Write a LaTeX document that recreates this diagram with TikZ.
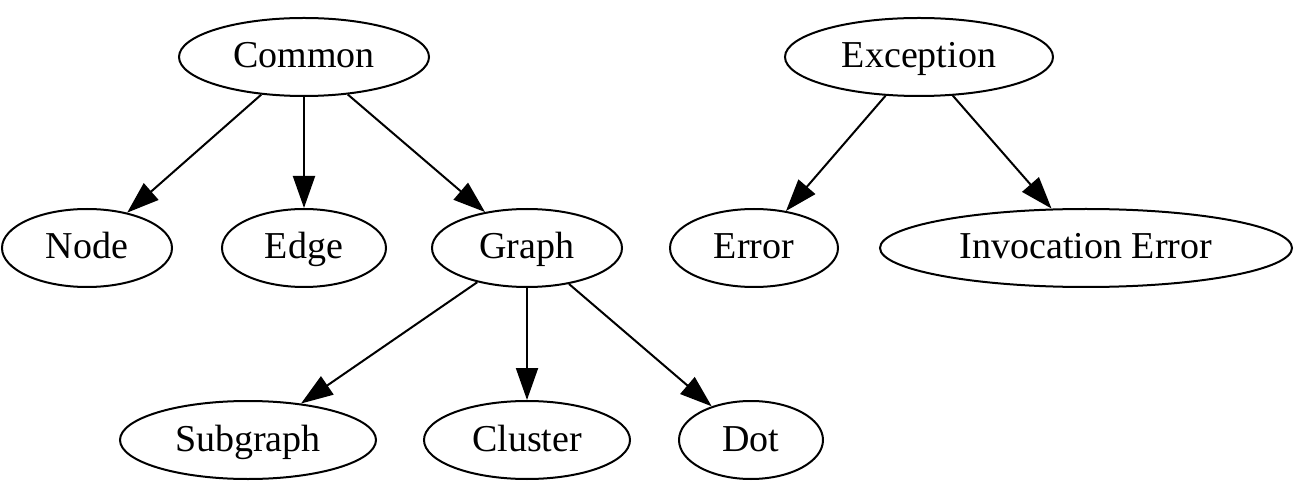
\documentclass[tikz,border=0pt]{standalone}
\usepackage{fontspec}
\setmainfont{Liberation Serif}
\usetikzlibrary{shapes.geometric,arrows.meta}
\begin{document}
\begin{tikzpicture}[x=0.5pt,y=-0.5pt,
  nd/.style={draw,ellipse,line width=1pt,inner sep=0pt,
    minimum height=78*0.5pt,text height=15.2pt,text depth=4.2pt,
    font=\fontsize{19pt}{22pt}\selectfont},
  ed/.style={line width=1pt,-{Triangle[length=16pt,width=11pt]}}]
\useasboundingbox (0,0) rectangle (1294,496);
\node[nd,minimum width=250*0.5pt] (common) at (304,57) {Common};
\node[nd,minimum width=268*0.5pt] (exception) at (919,57) {Exception};
\node[nd,minimum width=170*0.5pt] (node) at (87,248) {Node};
\node[nd,minimum width=164*0.5pt] (edge) at (304,248) {Edge};
\node[nd,minimum width=190*0.5pt] (graph) at (527,248) {Graph};
\node[nd,minimum width=168*0.5pt] (error) at (754,248) {Error};
\node[nd,minimum width=412*0.5pt] (inv) at (1086,248) {Invocation Error};
\node[nd,minimum width=256*0.5pt] (sub) at (248,440) {Subgraph};
\node[nd,minimum width=206*0.5pt] (cluster) at (527,440) {Cluster};
\node[nd,minimum width=144*0.5pt] (dot) at (751,440) {Dot};
\draw[ed] (common) -- (node);
\draw[ed] (common) -- (edge);
\draw[ed] (common) -- (graph);
\draw[ed] (exception) -- (error);
\draw[ed] (exception) -- (inv);
\draw[ed] (graph) -- (sub);
\draw[ed] (graph) -- (cluster);
\draw[ed] (graph) -- (dot);
\end{tikzpicture}
\end{document}
